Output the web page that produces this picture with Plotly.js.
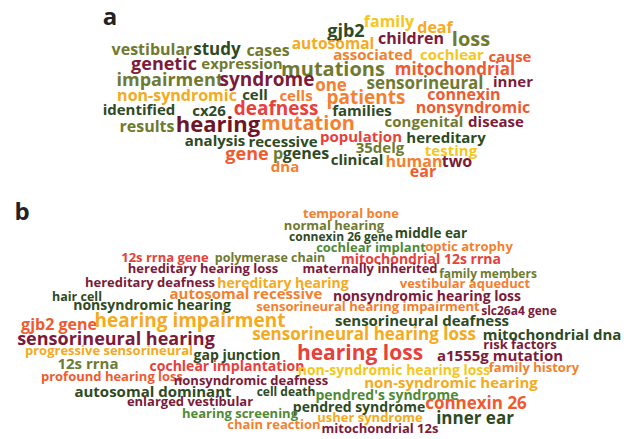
<!DOCTYPE html>
<html>
<head>
<meta charset="utf-8">
<script src="https://cdn.plot.ly/plotly-3.0.1.min.js"></script>
<style>html,body{margin:0;padding:0;background:#fff}#chart{width:624px;height:439px}</style>
</head>
<body>
<div id="chart"></div>
<script>
// Palette names used by the word lists
const PAL = {
  dg: '#2e4a22', ol: '#6f7a30', mr: '#7c1a3a', or: '#f4802e', ro: '#ef5a30',
  rd: '#e8403a', am: '#f5aa20', ye: '#f5c71c', gr: '#4f8a36', hm: '#6e1428'
};

// Panel a: words, weights (font size), colour keys, positions
const wordsA = ['gjb2','family','deaf','children','loss','vestibular','study','cases','autosomal','associated','cochlear','cause','genetic','expression','mutations','mitochondrial','impairment','syndrome','one','sensorineural','inner','non-syndromic','cell','cells','patients','connexin','identified','cx26','deafness','families','nonsyndromic','results','hearing','mutation','congenital','disease','analysis','recessive','population','hereditary','gene','p','genes','35delg','testing','clinical','human','two','dna','ear'];
const sizeA = [18,16,16,16,20,16,17,16,15.5,15,15,15,18,15,20,17,18,19,17,17,15,16,15,15,19,16,15,15,19,15,16,16,22,20,15,15,15,15,15,15,18,16,16,15,15,15,16,16,15,16];
const colA = ['dg','ye','am','mr','ol','ol','dg','ol','am','or','ye','ro','mr','ol','ol','ro','ol','mr','or','ol','mr','am','dg','or','or','ro','dg','dg','rd','dg','ro','ol','hm','or','ol','mr','dg','dg','rd','dg','ro','ol','dg','ol','ye','dg','or','mr','or','ro'];
const xA = [346,389,435,411,471,152,217,268,333,373,452,510,164,242,333,455,170,267,331,425,513,177,255,296,366,464,139,209,276,362,473,147,218,308,424,496,215,283,361,446,247,278,306,380,451,357,414,457,285,423];
const yA = [32,23,29,40,41,51,51,52,45,56,56,58,65,65,71,71,81,81,87,85,83,97,96,97,99,96,111,112,110,112,109,128,126,125,123,123,142,143,138,139,155,155,155,149,152,161,163,163,168,173];

// Panel b
const wordsB = ['temporal bone','normal hearing','connexin 26 gene','middle ear','cochlear implant','optic atrophy','12s rrna gene','polymerase chain','mitochondrial 12s rrna','hereditary hearing loss','maternally inherited','family members','hereditary deafness','hereditary hearing','vestibular aqueduct','hair cell','autosomal recessive','nonsyndromic hearing','nonsyndromic hearing loss','sensorineural hearing impairment','slc26a4 gene','gjb2 gene','hearing impairment','sensorineural deafness','sensorineural hearing','sensorineural hearing loss','mitochondrial dna','risk factors','progressive sensorineural','gap junction','hearing loss','a1555g mutation','12s rrna','cochlear implantation','non-syndromic hearing loss','family history','profound hearing loss','nonsyndromic deafness','non-syndromic hearing','autosomal dominant','cell death','pendred\'s syndrome','connexin 26','enlarged vestibular','pendred syndrome','hearing screening','usher syndrome','inner ear','chain reaction','mitochondrial 12s'];
const sizeB = [13,13,12,13.5,13,13,13,12.5,14,13,13,12,13,14,13,12.5,15,14,14,13,12,16,19,15,18,17,15,13,13,14,21,15,15,14,14,13,13,13,15,15,12,14,17,13,14,13,13,17,13,13];
const colB = ['or','ol','dg','dg','gr','or','rd','ol','rd','mr','mr','ol','mr','am','or','dg','or','dg','mr','or','mr','ro','am','dg','mr','am','dg','mr','am','dg','rd','mr','ol','rd','ye','or','ro','mr','am','dg','dg','gr','ro','mr','dg','gr','am','dg','or','mr'];
const xB = [351,334,341,431,371,469,165,270,421,203,370,488,150,283,465,77,246,152,427,368,519,59,190,422,116,364,552,520,109,237,360,500,88,227,394,534,112,251,451,153,286,387,476,190,359,240,370,475,274,380];
const yB = [215,227,238,235,249,248,259,259,260,270,270,275,284,284,285,298,295,306,297,308,312,326,322,322,340,336,336,346,352,356,355,357,365,367,371,369,378,382,384,393,393,396,405,403,408,415,419,420,426,430];

function trace(words, xs, ys, sizes, cols) {
  return {
    type: 'scatter', mode: 'text', x: xs, y: ys, text: words,
    textposition: 'middle center',
    textfont: { family: 'Open Sans', weight: 700, size: sizes, color: cols.map(c => PAL[c]) },
    hoverinfo: 'skip', showlegend: false, cliponaxis: false
  };
}

const panelLabels = {
  type: 'scatter', mode: 'text', x: [110, 22], y: [19, 214], text: ['a', 'b'],
  textposition: 'middle center',
  textfont: { family: 'Open Sans', weight: 700, size: 24, color: '#222' },
  hoverinfo: 'skip', showlegend: false, cliponaxis: false
};

const layout = {
  width: 624, height: 439,
  margin: { l: 0, r: 0, t: 0, b: 0 },
  paper_bgcolor: '#fff', plot_bgcolor: '#fff',
  xaxis: { range: [0, 624], visible: false, fixedrange: true },
  yaxis: { range: [439, 0], visible: false, fixedrange: true },
  showlegend: false
};

Plotly.newPlot('chart', [trace(wordsA, xA, yA, sizeA, colA), trace(wordsB, xB, yB, sizeB, colB), panelLabels], layout, { displayModeBar: false, staticPlot: true });
</script>
</body>
</html>
